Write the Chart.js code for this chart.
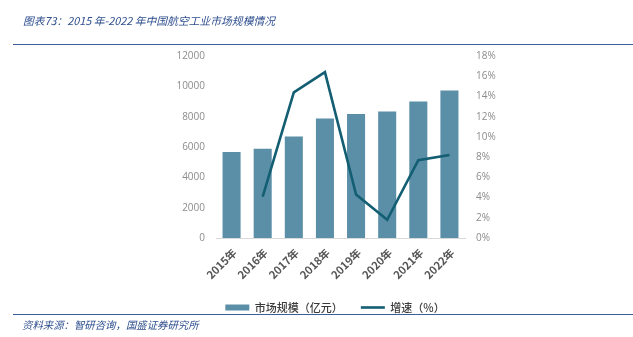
<!DOCTYPE html>
<html>
<head>
<meta charset="utf-8">
<script src="https://cdn.jsdelivr.net/npm/chart.js@4.4.1/dist/chart.umd.min.js"></script>
<style>
  html, body { margin: 0; padding: 0; background: #ffffff; }
  #wrap { position: relative; width: 633px; height: 337px; overflow: hidden; }
  #chart { position: absolute; left: 0; top: 0; }
  .cap { position: absolute; font-family: "Noto Sans CJK SC", sans-serif; font-style: italic;
         color: #2e4f8e; white-space: nowrap; }
  #title { left: 23px; top: 12px; font-size: 10.8px; }
  #source { left: 22px; top: 317px; font-size: 10.4px; }
  .rule { position: absolute; left: 13px; right: 0; height: 1.5px; background: #3a5f9c; }
</style>
</head>
<body>
<div id="wrap">
  <canvas id="chart" width="633" height="337"></canvas>
  <div class="cap" id="title">图表73：2015 年-2022 年中国航空工业市场规模情况</div>
  <div class="rule" style="top:43.5px"></div>
  <div class="rule" style="top:313.5px"></div>
  <div class="cap" id="source">资料来源：智研咨询，国盛证券研究所</div>
</div>
<script>
// Market size (100 million yuan) and year-on-year growth (%)
const years = ['2015年', '2016年', '2017年', '2018年', '2019年', '2020年', '2021年', '2022年'];
const marketSize = [5670, 5890, 6700, 7880, 8180, 8340, 9000, 9720];
const growthRate = [null, 4.1, 14.4, 16.4, 4.3, 1.8, 7.7, 8.2];
const sizeTicks = [0, 2000, 4000, 6000, 8000, 10000, 12000];
const rateTicks = [0, 2, 4, 6, 8, 10, 12, 14, 16, 18];

const barColor = '#5a8fa7';
const lineColor = '#135e72';

new Chart(document.getElementById('chart'), {
  data: {
    labels: years,
    datasets: [
      {
        type: 'line',
        label: '增速（%）',
        data: growthRate,
        yAxisID: 'y1',
        borderColor: lineColor,
        backgroundColor: lineColor,
        borderWidth: 2.6,
        pointRadius: 0,
        tension: 0,
        spanGaps: false,
        order: 0
      },
      {
        type: 'bar',
        label: '市场规模（亿元）',
        data: marketSize,
        yAxisID: 'y',
        backgroundColor: barColor,
        borderWidth: 0,
        categoryPercentage: 1,
        barPercentage: 0.58,
        order: 1
      }
    ]
  },
  options: {
    responsive: false,
    animation: false,
    layout: { padding: { left: 170, right: 133, top: 56, bottom: 14 } },
    plugins: {
      tooltip: { enabled: false },
      legend: {
        position: 'bottom',
        reverse: true,
        labels: {
          usePointStyle: true,
          pointStyleWidth: 24,
          boxHeight: 6,
          padding: 18,
          color: '#3a3a3a',
          font: { family: '"Noto Sans CJK SC", sans-serif', size: 11, weight: '500' },
          generateLabels(chart) {
            const items = Chart.defaults.plugins.legend.labels.generateLabels(chart);
            items.forEach(it => {
              const ds = chart.data.datasets[it.datasetIndex];
              it.pointStyle = ds.type === 'line' ? 'line' : 'rect';
              if (ds.type === 'line') { it.lineWidth = 2.6; it.strokeStyle = lineColor; }
            });
            return items;
          }
        }
      }
    },
    scales: {
      x: {
        grid: { display: false, drawTicks: false },
        border: { display: true, color: '#d9d9d9', width: 1 },
        ticks: {
          minRotation: 45,
          maxRotation: 45,
          padding: 8,
          labelOffset: 3,
          color: '#555555',
          font: { family: '"Noto Sans CJK SC", sans-serif', size: 11, weight: 'bold' }
        },
        afterFit(scale) { scale.height = 46; }
      },
      y: {
        position: 'left',
        min: 0,
        max: 12000,
        grid: { display: false, drawTicks: false },
        border: { display: false },
        afterBuildTicks(scale) { scale.ticks = sizeTicks.map(v => ({ value: v })); },
        ticks: {
          padding: 11,
          color: '#8c8c8c',
          font: { family: '"Open Sans", sans-serif', size: 10 },
          callback: v => String(v)
        },
        afterFit(scale) { scale.width = 46; }
      },
      y1: {
        position: 'right',
        min: 0,
        max: 18,
        grid: { display: false, drawTicks: false },
        border: { display: false },
        afterBuildTicks(scale) { scale.ticks = rateTicks.map(v => ({ value: v })); },
        ticks: {
          padding: 11,
          color: '#8c8c8c',
          font: { family: '"Open Sans", sans-serif', size: 10 },
          callback: v => v + '%'
        },
        afterFit(scale) { scale.width = 35; }
      }
    }
  }
});
</script>
</body>
</html>
